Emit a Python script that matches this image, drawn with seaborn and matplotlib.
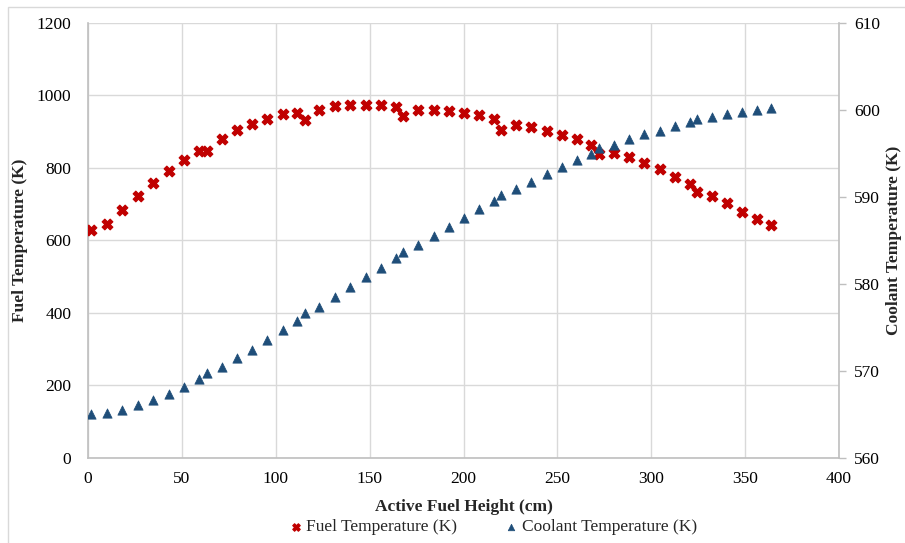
import numpy as np
import pandas as pd
import matplotlib
matplotlib.use("Agg")
import matplotlib.pyplot as plt
import seaborn as sns

# -----------------------------
# DATA
# -----------------------------
height_cm = [1.8, 10.1, 18.1, 26.7, 34.7, 42.9, 51.2, 59.2, 63.2, 71.5,
             79.5, 87.4, 95.5, 103.7, 111.5, 115.6, 123.3, 131.8, 139.7, 148.0,
             156.0, 164.0, 167.8, 175.8, 184.1, 192.1, 200.1, 208.1, 216.1, 220.2,
             228.1, 236.1, 244.4, 252.2, 260.2, 268.1, 272.2, 280.2, 288.2, 296.2,
             304.5, 312.7, 320.4, 324.4, 332.3, 340.1, 348.1, 356.2, 364.0]

fuel_temp = [628, 644, 683, 721, 758, 791, 821, 845, 847, 878,
             903, 919, 934, 947, 952, 931, 958, 970, 972, 972,
             972, 966, 942, 960, 960, 956, 951, 944, 933, 905,
             917, 913, 902, 891, 878, 862, 837, 841, 828, 812,
             795, 775, 754, 732, 721, 703, 678, 657, 641]

coolant_temp = [564.97, 565.08, 565.46, 566.00, 566.60, 567.26, 568.07, 568.99, 569.71, 570.44,
                571.44, 572.39, 573.50, 574.62, 575.72, 576.57, 577.33, 578.48, 579.63, 580.71,
                581.77, 582.90, 583.66, 584.43, 585.50, 586.53, 587.49, 588.53, 589.52, 590.17,
                590.86, 591.67, 592.55, 593.36, 594.20, 594.89, 595.54, 595.89, 596.57, 597.18,
                597.56, 598.10, 598.60, 598.90, 599.10, 599.45, 599.68, 599.91, 600.14]

df = pd.DataFrame({"Height": height_cm, "Fuel": fuel_temp, "Coolant": coolant_temp})

# -----------------------------
# STYLE
# -----------------------------
sns.set_theme(style="white")
plt.rcParams["font.family"] = ["Liberation Serif", "DejaVu Serif"]
plt.rcParams["font.size"] = 12

fuel_color = "#C00000"
coolant_color = "#1F4E79"
grid_color = "#D9D9D9"
spine_color = "#BFBFBF"

fig = plt.figure(figsize=(9.05, 5.43), dpi=100)
ax = fig.add_axes([88 / 905, 1 - 457.6 / 543, (839 - 88) / 905, (457.6 - 22.6) / 543])
ax2 = ax.twinx()

# outer chart frame (cropped on the right / bottom like the reference)
fig.patches.append(plt.Rectangle((8 / 905, -0.1), 1.2, 1 - 7 / 543 + 0.1,
                                 transform=fig.transFigure, fill=False,
                                 edgecolor="#D9D9D9", linewidth=1.0))

# -----------------------------
# PLOTS
# -----------------------------
sns.scatterplot(data=df, x="Height", y="Fuel", ax=ax, marker="X", s=60,
                color=fuel_color, edgecolor=fuel_color, linewidth=0.8,
                label="Fuel Temperature (K)", legend=False, zorder=3)
sns.scatterplot(data=df, x="Height", y="Coolant", ax=ax2, marker="^", s=45,
                color=coolant_color, edgecolor=coolant_color, linewidth=0.5,
                label="Coolant Temperature (K)", legend=False, zorder=3)

ax.set_xlim(0, 400)
ax.set_ylim(0, 1200)
ax2.set_ylim(560, 610)
ax.set_xticks(np.arange(0, 401, 50))
ax.set_yticks(np.arange(0, 1201, 200))
ax2.set_yticks(np.arange(560, 611, 10))

ax.grid(True, color=grid_color, linewidth=1.0)
ax.set_axisbelow(True)

for a in (ax, ax2):
    for s in a.spines.values():
        s.set_visible(False)
ax.spines["left"].set_visible(True)
ax.spines["bottom"].set_visible(True)
ax.spines["left"].set_color(spine_color)
ax.spines["bottom"].set_color(spine_color)
ax.spines["left"].set_linewidth(1.2)
ax.spines["bottom"].set_linewidth(1.2)
ax2.spines["right"].set_visible(True)
ax2.spines["right"].set_color(spine_color)
ax2.spines["right"].set_linewidth(1.2)

ax.tick_params(axis="y", length=0, labelsize=12.5, colors="black", pad=12)
ax.tick_params(axis="x", length=0, labelsize=12.5, colors="black", pad=10)
ax2.tick_params(axis="y", length=5, width=1.0, color=spine_color, labelsize=12.5,
                labelcolor="black", pad=6, direction="out")

ax.set_xlabel("Active Fuel Height (cm)", fontsize=12.5, fontweight="bold", labelpad=8)
ax.set_ylabel("Fuel Temperature (K)", fontsize=12.5, fontweight="bold", labelpad=6)
ax2.set_ylabel("Coolant Temperature (K)", fontsize=12.5, fontweight="bold", labelpad=4)

# -----------------------------
# LEGEND
# -----------------------------
h1, l1 = ax.get_legend_handles_labels()
h2, l2 = ax2.get_legend_handles_labels()
fig.legend(h1 + h2, l1 + l2, loc="center", bbox_to_anchor=(492 / 905, 1 - 527 / 543),
           ncol=2, frameon=False, fontsize=12.5, handletextpad=0.1,
           columnspacing=2.6, markerscale=0.7, handlelength=1.0)

fig.savefig("out.png", dpi=100)
